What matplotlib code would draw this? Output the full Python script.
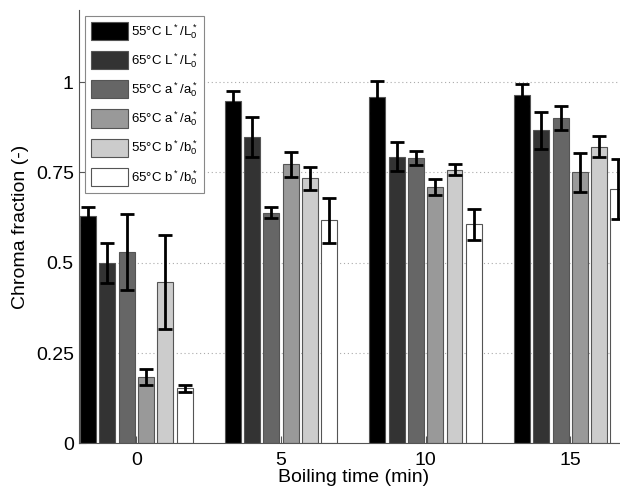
import matplotlib.pyplot as plt
import numpy as np

# Boiling times (min) and the six series.
times = [0, 5, 10, 15]
labels = [r"55°C L$^*$/L$^*_0$", r"65°C L$^*$/L$^*_0$",
          r"55°C a$^*$/a$^*_0$", r"65°C a$^*$/a$^*_0$",
          r"55°C b$^*$/b$^*_0$", r"65°C b$^*$/b$^*_0$"]
L55 = [0.629, 0.947, 0.959, 0.965]
L65 = [0.500, 0.848, 0.794, 0.866]
a55 = [0.530, 0.638, 0.789, 0.900]
a65 = [0.183, 0.772, 0.710, 0.750]
b55 = [0.448, 0.734, 0.758, 0.821]
b65 = [0.153, 0.618, 0.606, 0.703]
L55_err = [0.024, 0.028, 0.044, 0.031]
L65_err = [0.055, 0.054, 0.040, 0.052]
a55_err = [0.105, 0.015, 0.019, 0.034]
a65_err = [0.022, 0.034, 0.023, 0.053]
b55_err = [0.130, 0.032, 0.015, 0.029]
b65_err = [0.010, 0.062, 0.043, 0.083]
yticks = [0, 0.25, 0.5, 0.75, 1]
ytick_labels = ["0", "0.25", "0.5", "0.75", "1"]

grays = ["#000000", "#333333", "#666666", "#999999", "#cccccc", "#ffffff"]


def main():
  plt.rcParams['font.family'] = ['Liberation Sans', 'DejaVu Sans']
  plt.rcParams['mathtext.default'] = 'regular'
  plt.rc('font', size=14)

  fig = plt.figure(figsize=(6.2, 4.9), dpi=100)
  ax = fig.add_axes([0.128, 0.095, 0.885, 0.885])

  series = [L55, L65, a55, a65, b55, b65]
  errors = [L55_err, L65_err, a55_err, a65_err, b55_err, b65_err]
  x = np.array(times, dtype=float)
  step = 0.667
  width = 0.55

  for i, (vals, errs) in enumerate(zip(series, errors)):
    pos = x + (i - 2.5) * step
    ax.bar(pos, vals, width=width, color=grays[i], edgecolor="#555555",
           linewidth=0.8, label=labels[i], zorder=2)
    ax.errorbar(pos, vals, yerr=errs, fmt="none", ecolor="black",
                elinewidth=2, capsize=4.7, capthick=2, zorder=3)

  for y in yticks[1:]:
    ax.axhline(y, color="#aaaaaa", linestyle=(0, (1, 2.5)), linewidth=0.8, zorder=1)

  ax.set_xlim(-1.97, 17.0)
  ax.set_ylim(0, 1.2)
  ax.set_xticks(times)
  ax.set_xticklabels([str(t) for t in times])
  ax.set_yticks(yticks)
  ax.set_yticklabels(ytick_labels)
  ax.tick_params(direction="in", length=5, width=0.8, colors="#555555", labelcolor="black")
  ax.tick_params(axis="x", pad=6)
  ax.tick_params(axis="y", pad=4)
  ax.spines["top"].set_visible(False)
  ax.spines["right"].set_visible(False)
  ax.spines["left"].set_color("#555555")
  ax.spines["bottom"].set_color("#555555")
  ax.set_xlabel("Boiling time (min)", labelpad=0)
  ax.set_ylabel("Chroma fraction (-)", labelpad=5)

  leg = ax.legend(loc="upper left", bbox_to_anchor=(0.01, 0.986), borderaxespad=0,
                  fontsize=9.5, handlelength=2.8, handleheight=1.75, labelspacing=0.78,
                  borderpad=0.45, handletextpad=0.25, fancybox=False,
                  framealpha=1, edgecolor="#888888")
  leg.get_frame().set_linewidth(0.8)

  fig.savefig("out.png", dpi=100)


if __name__ == "__main__":
  main()
